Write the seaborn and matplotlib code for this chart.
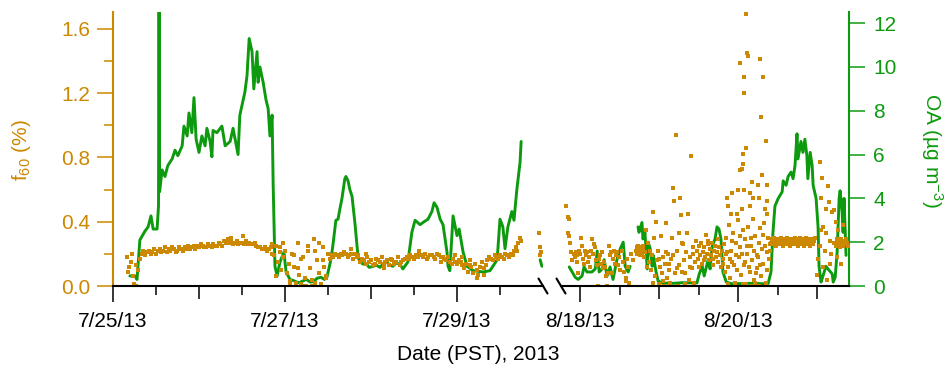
import numpy as np
import pandas as pd
import matplotlib
matplotlib.use("Agg")
import matplotlib.pyplot as plt
import seaborn as sns
from matplotlib.ticker import NullLocator

sns.set_theme(style="ticks")
plt.rcParams['font.family'] = ['Liberation Sans', 'DejaVu Sans']
plt.rcParams['mathtext.default'] = 'regular'

ORANGE = "#CC8800"
GREEN = "#0E9A0E"
FS = 15

# ---------------- data ----------------
# times are hours after midnight (PST) of the segment's base date
seg1_base = "2013-07-25"
seg2_base = "2013-08-17"
seg1_xlim = (0.0, 120.0)
seg2_xlim = (18.2, 105.7)
f60_ylim = (0.0, 1.705)
oa_ylim = (0.0, 12.51)

# OA (ug m-3), segment 1 (late July)
oa_seg1 = [(4.7, 0.46), (6.1, 0.46), (6.7, 0.3), (7.5, 2.1), (8.9, 2.5), (9.8, 2.7), (10.6, 3.2),
           (11.2, 2.6), (12.3, 2.6), (12.7, 3.65), (12.85, 13.5), (13.0, 4.3), (13.7, 5.3),
           (14.5, 5.0), (15.3, 5.5), (16.5, 5.8), (17.3, 6.2), (18.1, 5.95), (19.3, 6.4), (19.8, 7.3),
           (20.7, 6.85), (21.2, 7.9), (22.0, 7.0), (22.6, 8.6), (23.2, 6.7), (24.0, 6.1), (24.8, 6.85),
           (25.7, 6.4), (26.2, 7.2), (27.1, 6.6), (27.6, 5.9), (27.9, 7.1), (29.0, 7.0), (30.4, 7.3),
           (31.3, 6.4), (32.7, 6.6), (33.5, 7.2), (34.9, 6.0), (35.4, 7.8), (36.8, 8.85), (37.4, 9.6),
           (38.0, 11.3), (38.8, 10.7), (39.3, 9.0), (40.2, 10.7), (40.5, 9.3), (41.0, 10.0), (41.9, 9.3),
           (42.7, 8.5), (43.3, 8.1), (43.8, 6.85), (44.4, 7.8), (44.7, 4.6), (45.2, 0.9), (45.8, 0.46),
           (46.6, 1.1), (47.7, 1.55), (48.3, 0.64), (49.4, 0.3), (50.3, 0.25), (51.3, 0.18), (52.0, 0.15),
           (53.0, 0.23), (54.0, 0.3), (55.0, 0.18), (56.0, 0.2), (56.9, 0.35), (58.0, 0.4), (59.0, 0.3),
           (59.7, 0.4), (60.8, 1.2), (61.4, 1.9), (62.2, 3.0), (62.8, 3.05), (63.3, 3.5), (63.9, 4.0),
           (64.7, 4.9), (65.0, 5.0), (65.6, 4.8), (66.1, 4.4), (66.7, 4.1), (67.5, 2.9), (68.4, 1.3),
           (68.9, 1.1), (69.8, 1.0), (70.5, 1.05), (71.5, 0.85), (72.6, 0.9), (73.5, 0.95), (74.5, 0.85),
           (75.3, 1.0), (76.3, 1.1), (77.2, 0.95), (78.1, 0.9), (79.0, 1.05), (80.1, 1.0), (80.9, 0.78),
           (82.3, 1.1), (83.4, 2.45), (84.3, 3.0), (85.7, 2.8), (86.5, 2.9), (87.9, 3.05), (89.0, 3.4),
           (89.6, 3.8), (90.4, 3.6), (91.3, 3.05), (92.1, 2.8), (93.2, 1.55), (93.5, 0.9), (94.0, 0.7),
           (94.9, 3.2), (96.0, 2.3), (96.6, 2.6), (97.7, 1.55), (98.8, 0.9), (100.5, 0.7), (103.3, 0.64),
           (105.2, 0.7), (107.2, 1.2), (108.0, 3.05), (108.8, 2.7), (109.4, 1.7), (110.2, 2.7),
           (111.3, 3.4), (111.9, 3.0), (112.7, 4.4), (113.6, 5.65), (113.9, 6.6)]
oa_seg1b = [(119.2, 1.2), (119.7, 0.9)]

# OA, segment 2 (mid August)
oa_seg2a = [(20.7, 0.87), (21.6, 0.64), (22.5, 0.4), (23.4, 0.3), (24.6, 0.46), (25.2, 0.87),
            (26.1, 0.64), (27.6, 0.64), (28.6, 0.78), (29.2, 1.6), (29.8, 0.64), (30.7, 0.78),
            (31.3, 1.2), (32.2, 0.46), (33.1, 0.87), (34.0, 0.3), (35.2, 1.2), (36.2, 1.7),
            (37.1, 2.0), (37.7, 0.9), (38.6, 0.64), (39.2, 0.9)]
oa_seg2b = [(41.6, 2.7), (41.9, 2.45), (42.8, 2.9), (43.1, 2.15), (43.7, 2.45), (44.4, 0.78),
            (44.7, 2.0), (45.3, 1.7), (45.9, 0.9), (46.2, 1.4), (47.1, 0.64), (47.7, 0.23),
            (48.9, 0.14), (52.0, 0.12), (55.0, 0.15), (59.5, 0.14), (60.2, 0.55), (61.1, 0.9),
            (61.7, 0.46), (62.9, 1.2), (63.5, 0.78), (64.1, 1.8), (65.0, 2.15), (65.6, 2.7),
            (66.2, 2.6), (66.8, 2.15), (67.4, 0.64), (68.4, 0.18), (70.2, 0.1), (75.0, 0.12),
            (81.1, 0.1), (82.0, 0.64), (82.6, 2.45), (83.2, 3.65), (84.2, 4.0), (85.4, 4.3),
            (85.7, 4.8), (86.6, 4.6), (87.2, 5.0), (88.1, 5.2), (88.7, 4.9), (89.3, 5.5),
            (89.9, 6.95), (90.2, 5.8), (91.1, 6.6), (91.7, 6.1), (92.3, 6.7), (92.9, 5.95),
            (93.2, 4.9), (93.9, 6.1), (94.5, 5.5), (94.8, 4.6), (95.7, 4.0), (96.3, 2.7),
            (96.6, 0.9), (97.2, 0.18), (97.8, 0.46), (98.7, 0.9), (99.3, 0.78), (100.6, 0.55),
            (100.9, 0.18), (101.5, 0.4), (102.1, 1.55), (102.7, 4.0), (103.0, 4.35), (103.6, 3.4),
            (103.9, 2.45), (104.2, 4.0), (104.8, 1.4)]

# f60 (%), segment 1: regular half-hour readings starting at 04:00 on 7/25
f60_seg1_t0, f60_seg1_dt = 4.0, 0.5
f60_seg1 = [0.18, 0.12, 0.15, 0.06, 0.01, 0.00, 0.10, 0.17,
            0.20, 0.22, 0.19, 0.21, 0.22, 0.20, 0.21, 0.23, 0.20, 0.22, 0.23, 0.21,
            0.22, 0.24, 0.21, 0.23, 0.22, 0.24, 0.23, 0.21, 0.22, 0.24, 0.23, 0.22,
            0.24, 0.23, 0.25, 0.23, 0.24, 0.25, 0.23, 0.25, 0.24, 0.26, 0.25, 0.24,
            0.24, 0.26, 0.25, 0.24, 0.26, 0.25, 0.25, 0.27, 0.26, 0.25, 0.28, 0.27,
            0.29, 0.27, 0.28, 0.26, 0.27, 0.28, 0.26, 0.27, 0.27, 0.26, 0.28, 0.26,
            0.27, 0.26, 0.26, 0.27, 0.25, 0.24, 0.24, 0.23, 0.23, 0.24, 0.22, 0.23,
            0.24, 0.20, 0.19, 0.06, 0.15, 0.21, 0.10, 0.18, 0.22, 0.08, 0.14, 0.03,
            0.20, 0.12, 0.02, 0.27, 0.07, 0.01, 0.18, 0.05, 0.00, 0.22, 0.11, 0.04,
            0.29, 0.02, 0.16, 0.08, 0.01, 0.24, 0.12, 0.06, 0.20, 0.17, 0.19, 0.18,
            0.20, 0.19, 0.18, 0.20, 0.19, 0.21, 0.20, 0.18, 0.19, 0.20, 0.17, 0.20,
            0.18, 0.19, 0.15, 0.17, 0.16, 0.14, 0.18, 0.15, 0.16, 0.13, 0.14, 0.17,
            0.16, 0.15, 0.18, 0.14, 0.15, 0.16, 0.13, 0.17, 0.16, 0.14, 0.15, 0.18,
            0.13, 0.15, 0.16, 0.17, 0.18, 0.17, 0.19, 0.18, 0.17, 0.19, 0.18, 0.20,
            0.19, 0.18, 0.20, 0.17, 0.18, 0.19, 0.19, 0.18, 0.17, 0.20, 0.19, 0.18,
            0.18, 0.17, 0.16, 0.18, 0.15, 0.14, 0.17, 0.15, 0.14, 0.16, 0.15, 0.13,
            0.11, 0.14, 0.09, 0.13, 0.12, 0.08, 0.14, 0.10, 0.07, 0.12, 0.15, 0.11,
            0.13, 0.16, 0.18, 0.17, 0.16, 0.19, 0.18, 0.17, 0.19, 0.18, 0.17, 0.20,
            0.19, 0.18, 0.20, 0.19, 0.22, 0.24, 0.27, 0.30]
f60_seg1_extra = [(4.2, 0.09), (5.2, 0.20), (6.3, 0.13), (33.0, 0.30), (36.2, 0.31), (44.5, 0.26),
                  (45.5, 0.25), (46.5, 0.24), (47.5, 0.27), (49.5, 0.01), (50.5, 0.19), (51.5, 0.11),
                  (52.5, 0.17), (53.5, 0.00), (54.5, 0.25), (55.5, 0.00), (56.5, 0.22), (57.5, 0.27),
                  (58.5, 0.16), (59.5, 0.05), (66.5, 0.23), (70.5, 0.20), (75.5, 0.11), (85.5, 0.22),
                  (91.5, 0.15), (95.5, 0.19), (97.5, 0.18), (99.5, 0.16), (101.5, 0.05), (103.5, 0.07),
                  (112.8, 0.22), (113.9, 0.28), (119.0, 0.33), (119.2, 0.24), (119.3, 0.19), (119.4, 0.21)]

# f60, segment 2: scattered readings
f60_seg2 = [(19.7, 0.50), (20.3, 0.43), (20.6, 0.42), (20.2, 0.33), (20.5, 0.31), (21.0, 0.27),
            (21.3, 0.21), (21.6, 0.16), (22.0, 0.20), (22.4, 0.18), (22.7, 0.21), (23.0, 0.15),
            (23.2, 0.19), (23.4, 0.08), (23.6, 0.22), (24.0, 0.20), (24.3, 0.30), (24.6, 0.25),
            (24.9, 0.17), (25.2, 0.14), (25.5, 0.22), (25.8, 0.19), (26.1, 0.21), (26.4, 0.15),
            (26.7, 0.18), (27.0, 0.12), (27.3, 0.22), (27.6, 0.29), (28.0, 0.20), (28.3, 0.26),
            (28.6, 0.24), (28.9, 0.16), (29.2, 0.13), (29.5, 0.00), (29.8, 0.17), (30.1, 0.19),
            (30.4, 0.14), (30.7, 0.21), (31.0, 0.11), (31.3, 0.15), (31.6, 0.12), (31.9, 0.06),
            (32.2, 0.00), (32.5, 0.08), (32.8, 0.25), (33.1, 0.19), (33.4, 0.21), (33.7, 0.08),
            (34.0, 0.17), (34.3, 0.22), (34.6, 0.14), (34.9, 0.19), (35.2, 0.21), (35.5, 0.13),
            (35.8, 0.18), (36.2, 0.10), (36.6, 0.22), (37.0, 0.15), (37.4, 0.09), (37.8, 0.05),
            (38.0, 0.03), (38.3, 0.17), (38.6, 0.12), (39.0, 0.02), (39.5, 0.20), (40.0, 0.16),
            (41.0, 0.22), (41.2, 0.24), (41.4, 0.20), (41.6, 0.25), (41.8, 0.21), (42.0, 0.23),
            (42.2, 0.19), (42.4, 0.24), (42.6, 0.22), (42.8, 0.20), (43.0, 0.25), (43.2, 0.23),
            (43.4, 0.18), (43.6, 0.21), (43.9, 0.35), (44.2, 0.12), (44.5, 0.27), (44.8, 0.15),
            (45.1, 0.22), (45.4, 0.10), (45.7, 0.19), (46.0, 0.02), (46.3, 0.46), (46.6, 0.30),
            (46.9, 0.06), (47.2, 0.40), (47.5, 0.16), (47.8, 0.22), (48.0, 0.17), (48.1, 0.01),
            (48.4, 0.12), (48.7, 0.31), (49.0, 0.08), (49.2, 0.03), (49.3, 0.18), (49.6, 0.00),
            (49.9, 0.14), (50.0, 0.21), (50.2, 0.39), (50.5, 0.05), (50.8, 0.20), (51.0, 0.14),
            (51.1, 0.10), (51.4, 0.02), (51.7, 0.17), (52.0, 0.30), (52.2, 0.19), (52.3, 0.61),
            (52.5, 0.53), (52.7, 0.08), (53.0, 0.94), (53.3, 0.22), (53.5, 0.11), (53.6, 0.00),
            (53.9, 0.13), (54.2, 0.33), (54.4, 0.55), (54.7, 0.44), (54.9, 0.27), (55.0, 0.09),
            (55.3, 0.26), (55.6, 0.16), (55.9, 0.01), (56.0, 0.08), (56.2, 0.21), (56.5, 0.33),
            (56.8, 0.45), (57.1, 0.04), (57.3, 0.12), (57.4, 0.18), (57.7, 0.81), (58.0, 0.11),
            (58.3, 0.24), (58.4, 0.20), (58.6, 0.02), (58.9, 0.15), (59.2, 0.28),
            (59.5, 0.22), (59.8, 0.17), (60.0, 0.12), (60.1, 0.25), (60.4, 0.19), (60.7, 0.27),
            (61.0, 0.14), (61.3, 0.21), (61.5, 0.16), (61.6, 0.24), (61.9, 0.18), (62.2, 0.32),
            (62.5, 0.20), (62.8, 0.26), (63.0, 0.28), (63.1, 0.16), (63.4, 0.23), (63.7, 0.19),
            (64.0, 0.27), (64.3, 0.13), (64.5, 0.17), (64.6, 0.22), (64.9, 0.25), (65.2, 0.18),
            (65.5, 0.21), (65.8, 0.15), (66.0, 0.29), (66.1, 0.24), (66.4, 0.19), (66.7, 0.12),
            (67.0, 0.22), (67.3, 0.17), (67.5, 0.14), (67.6, 0.26), (67.9, 0.09), (68.2, 0.20),
            (74.4, 1.69), (74.7, 1.45), (75.0, 1.43), (72.6, 1.39), (78.7, 1.41), (73.8, 1.30),
            (79.6, 1.30), (73.9, 1.20), (79.0, 1.05), (80.5, 0.90), (74.5, 0.86), (73.5, 0.82),
            (73.6, 0.76), (73.2, 0.73), (72.7, 0.72), (79.3, 0.69), (76.3, 0.65), (78.1, 0.63),
            (80.8, 0.63), (72.0, 0.60), (73.8, 0.60), (70.2, 0.58), (75.6, 0.58), (68.7, 0.55),
            (76.6, 0.55), (78.4, 0.55), (80.9, 0.53), (69.0, 0.50), (73.1, 0.48), (75.7, 0.50),
            (80.2, 0.48), (80.7, 0.45), (69.7, 0.45), (71.7, 0.45),
            (68.4, 0.30), (68.8, 0.12), (69.2, 0.38), (69.5, 0.05), (69.9, 0.22), (70.3, 0.15),
            (70.6, 0.33), (71.0, 0.02), (71.3, 0.27), (71.7, 0.10), (72.0, 0.41), (72.3, 0.18),
            (72.7, 0.24), (73.0, 0.07), (73.4, 0.35), (73.7, 0.13), (74.1, 0.29), (74.4, 0.01),
            (74.8, 0.20), (75.1, 0.37), (75.5, 0.09), (75.8, 0.25), (76.2, 0.16), (76.5, 0.42),
            (76.9, 0.04), (77.2, 0.31), (77.6, 0.19), (77.9, 0.11), (78.3, 0.27), (78.6, 0.36),
            (79.0, 0.06), (79.3, 0.23), (79.7, 0.14), (80.0, 0.39), (80.4, 0.02), (80.7, 0.21),
            (81.1, 0.30), (81.4, 0.17), (81.8, 0.26), (68.6, 0.21), (69.4, 0.17), (70.1, 0.28),
            (70.9, 0.13), (71.5, 0.19), (72.5, 0.31), (73.2, 0.20), (74.0, 0.15), (74.6, 0.25),
            (75.3, 0.12), (76.0, 0.30), (76.7, 0.22), (77.4, 0.08), (78.1, 0.18), (78.8, 0.13),
            (79.5, 0.32), (80.2, 0.25), (80.9, 0.10), (81.6, 0.22), (69.0, 0.01), (71.2, 0.00),
            (73.5, 0.01), (75.9, 0.00), (77.0, 0.02), (78.5, 0.00), (80.6, 0.01),
            (96.0, 0.07), (96.9, 0.77), (97.5, 0.67), (99.3, 0.62), (97.2, 0.55), (99.6, 0.52),
            (100.6, 0.46), (98.7, 0.48), (97.8, 0.37), (97.1, 0.35), (98.6, 0.33), (99.9, 0.28),
            (101.2, 0.27), (97.9, 0.12), (99.8, 0.14), (96.3, 0.17), (98.4, 0.22), (99.0, 0.04),
            (96.9, 0.25), (100.3, 0.20), (101.5, 0.27), (101.8, 0.25), (102.1, 0.29), (102.4, 0.26),
            (102.7, 0.28), (103.0, 0.24), (103.3, 0.29), (103.6, 0.27), (103.9, 0.25), (104.2, 0.28),
            (104.5, 0.26), (104.8, 0.29), (105.1, 0.27), (105.4, 0.25), (101.0, 0.47), (101.6, 0.40),
            (102.0, 0.18), (102.5, 0.35), (103.2, 0.14), (104.0, 0.38)]
# f60, segment 2: steady plateau, quarter-hour readings from 10:00 on 8/20
f60_seg2_band_t0, f60_seg2_band_dt = 82.0, 0.25
f60_seg2_band = [0.27, 0.29, 0.26, 0.28, 0.30, 0.27, 0.25, 0.28, 0.29, 0.26,
                 0.28, 0.27, 0.30, 0.26, 0.28, 0.25, 0.29, 0.27, 0.28, 0.26,
                 0.30, 0.27, 0.29, 0.25, 0.28, 0.27, 0.26, 0.29, 0.28, 0.30,
                 0.26, 0.27, 0.29, 0.25, 0.28, 0.30, 0.27, 0.26, 0.29, 0.28,
                 0.25, 0.27, 0.30, 0.28, 0.26, 0.29, 0.27, 0.28, 0.25, 0.29,
                 0.27, 0.26, 0.28, 0.30]


# ---------------- tables ----------------
def line_df(*segments):
    rows = []
    for k, seg in enumerate(segments):
        for t, v in seg:
            rows.append((t, v, k))
    return pd.DataFrame(rows, columns=["t", "v", "seg"])


def regular(t0, dt, vals):
    return [(t0 + i * dt, v) for i, v in enumerate(vals)]


oa1 = line_df(oa_seg1, oa_seg1b)
oa2 = line_df(oa_seg2a, oa_seg2b)
f1 = pd.DataFrame(regular(f60_seg1_t0, f60_seg1_dt, f60_seg1) + f60_seg1_extra, columns=["t", "v"])
f2 = pd.DataFrame(f60_seg2 + regular(f60_seg2_band_t0, f60_seg2_band_dt, f60_seg2_band),
                  columns=["t", "v"])


def date_label(base, h):
    d = pd.Timestamp(base) + pd.Timedelta(hours=h)
    return f"{d.month}/{d.day}/{d.year % 100}"


# ---------------- figure ----------------
W, H = 953, 371
fig = plt.figure(figsize=(W / 100, H / 100), dpi=100)
bot, hgt = 1 - 286 / H, 274 / H
axL = fig.add_axes([113 / W, bot, 430 / W, hgt])
axR = fig.add_axes([561 / W, bot, 288 / W, hgt])
axL2 = axL.twinx()
axR2 = axR.twinx()

MAJ, MED, MIN = 11.5, 9.4, 6.5
TW = 1.1

segments = [
    (axL, axL2, f1, oa1, seg1_base, seg1_xlim, [0, 48, 96], [24, 72], [12, 36, 60, 84, 108]),
    (axR, axR2, f2, oa2, seg2_base, seg2_xlim, [24, 72], [48, 96], [36, 60, 84]),
]

for ax, ax2, fdf, odf, base, xlim, majors, mediums, minors in segments:
    sns.lineplot(data=odf, x="t", y="v", units="seg", estimator=None, sort=False,
                 color=GREEN, linewidth=2.1, ax=ax2, legend=False)
    sns.scatterplot(data=fdf, x="t", y="v", color=ORANGE, marker="s", s=5.5,
                    linewidth=0, ax=ax, legend=False)
    ax.set_zorder(ax2.get_zorder() + 1)
    ax.patch.set_visible(False)
    ax.set_xlim(*xlim)
    ax2.set_xlim(*xlim)
    ax.set_ylim(*f60_ylim)
    ax2.set_ylim(*oa_ylim)
    for a in (ax, ax2):
        a.set_xlabel("")
        a.set_ylabel("")
        for s in a.spines.values():
            s.set_visible(False)
    ax.spines["bottom"].set_visible(True)
    ax.spines["bottom"].set_color("black")
    ax.spines["bottom"].set_linewidth(1.5)
    ax.set_xticks(majors)
    ax.set_xticklabels([date_label(base, h) for h in majors])
    ax.set_xticks(minors, minor=True)
    ax.tick_params(axis="x", which="major", direction="out", length=MAJ, width=TW,
                   color="black", labelsize=FS, labelcolor="black", pad=7)
    ax.tick_params(axis="x", which="minor", direction="out", length=MIN, width=TW,
                   color="black", bottom=True)
    sec = ax.secondary_xaxis("bottom")
    sec.set_xticks(mediums)
    sec.xaxis.set_minor_locator(NullLocator())
    sec.tick_params(axis="x", direction="out", length=MED, width=TW, color="black",
                    labelbottom=False)
    for s in sec.spines.values():
        s.set_visible(False)

# left segment: f60 axis
axL.spines["left"].set_visible(True)
axL.spines["left"].set_color(ORANGE)
axL.spines["left"].set_linewidth(1.5)
axL.set_yticks([0.0, 0.4, 0.8, 1.2, 1.6])
axL.set_yticklabels([f"{v:.1f}" for v in [0.0, 0.4, 0.8, 1.2, 1.6]])
axL.set_yticks([0.2, 0.6, 1.0, 1.4], minor=True)
axL.tick_params(axis="y", which="major", direction="out", length=MAJ, width=TW,
                color=ORANGE, labelcolor=ORANGE, labelsize=FS, pad=5, left=True)
axL.tick_params(axis="y", which="minor", direction="out", length=MIN, width=TW,
                color=ORANGE, left=True)
axL2.set_yticks([])
axL2.tick_params(axis="y", right=False, labelright=False)

# right segment: OA axis
axR.set_yticks([])
axR.tick_params(axis="y", which="both", left=False, labelleft=False)
axR2.spines["right"].set_visible(True)
axR2.spines["right"].set_color(GREEN)
axR2.spines["right"].set_linewidth(1.5)
axR2.set_yticks(list(range(0, 13, 2)))
axR2.yaxis.set_minor_locator(NullLocator())
axR2.tick_params(axis="y", which="major", direction="out", length=MAJ, width=TW,
                 color=GREEN, labelcolor=GREEN, labelsize=FS, pad=6, right=True)

# axis-break marks
dy = 7.5 / 274
for ax, xpos, wpx in [(axL, 1.0, 430), (axR, 0.0, 288)]:
    dx = 4.5 / wpx
    ax.plot([xpos - dx, xpos + dx], [dy, -dy], transform=ax.transAxes, color="black",
            linewidth=1.5, clip_on=False, zorder=10)

# labels
fig.text(22 / W, 1 - 150 / H, "f$_{60}$ (%)", rotation=90, ha="center", va="center",
         color=ORANGE, fontsize=FS)
fig.text(932 / W, 1 - 150 / H, "OA (µg m$^{-3}$)", rotation=270, ha="center", va="center",
         color=GREEN, fontsize=FS)
fig.text(478 / W, 1 - 355 / H, "Date (PST), 2013", ha="center", va="center",
         color="black", fontsize=FS)

fig.savefig("out.png", dpi=100)
